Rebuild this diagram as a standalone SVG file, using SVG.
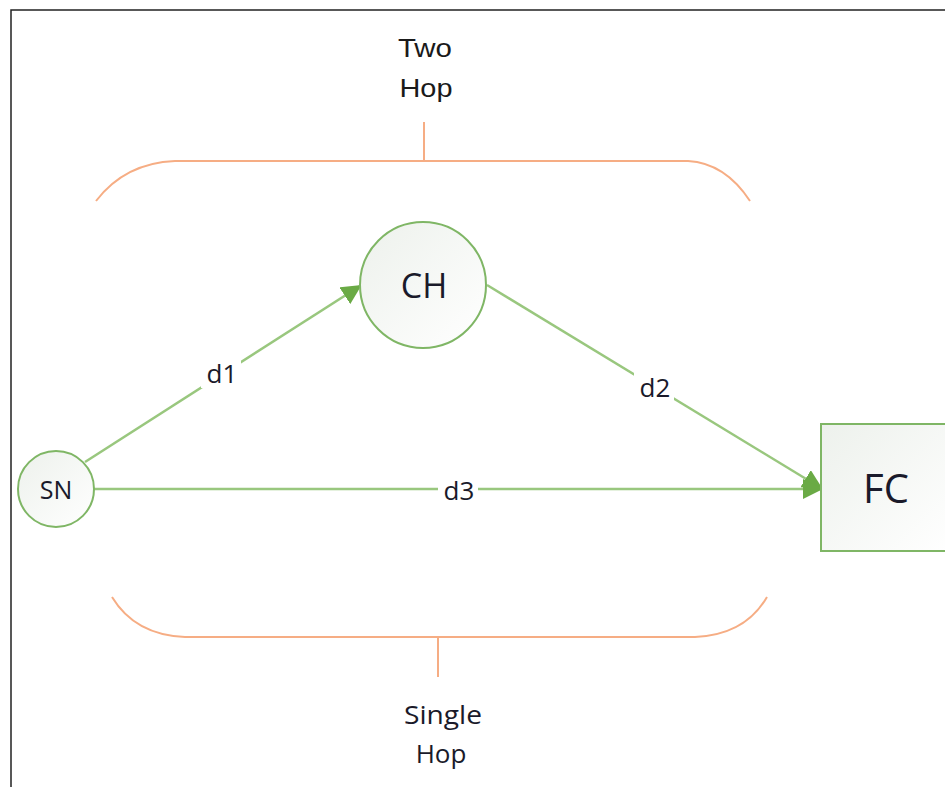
<svg xmlns="http://www.w3.org/2000/svg" width="945" height="787" viewBox="0 0 945 787">
  <defs>
    <linearGradient id="nodeFill" x1="0" y1="0" x2="1" y2="1">
      <stop offset="0" stop-color="#edf1ec"/>
      <stop offset="1" stop-color="#ffffff"/>
    </linearGradient>
    <marker id="arrowBig" viewBox="0 0 10 10" refX="9" refY="5" markerWidth="20" markerHeight="20" markerUnits="userSpaceOnUse" orient="auto">
      <path d="M0,0 L10,5 L0,10 Z" fill="#6aaa45"/>
    </marker>
  </defs>
  <style>
    .node { fill: url(#nodeFill); stroke: #7fb665; stroke-width: 2; }
    .edge { fill: none; stroke: #99c77e; stroke-width: 2.5; marker-end: url(#arrowBig); }
    .brace { fill: none; stroke: #f6ad84; stroke-width: 2; }
    .lbl { font-family: "Open Sans", "Noto Sans", sans-serif; fill: #1a1a2a; text-anchor: middle; }
    .note { font-family: "Liberation Sans", "Noto Sans", sans-serif; fill: #1a1a1a; text-anchor: middle; font-size: 26px; }
    .bg { fill: #ffffff; }
  </style>

  <rect x="0" y="0" width="945" height="787" fill="#ffffff"/>
  <!-- frame -->
  <path d="M11,787 L11,10 L945,10" fill="none" stroke="#222222" stroke-width="1.5"/>

  <!-- braces -->
  <g id="brace-top">
    <path class="brace" d="M96,201 Q125,163 175,161 L688,161 Q725,163 750,201"/>
    <path class="brace" d="M424,161 L424,122"/>
    <text class="note" x="425" y="57" textLength="54" lengthAdjust="spacingAndGlyphs">Two</text>
    <text class="note" x="426" y="97" textLength="53" lengthAdjust="spacingAndGlyphs">Hop</text>
  </g>
  <g id="brace-bottom">
    <path class="brace" d="M112,597 Q135,635 185,637 L695,637 Q745,635 767,597"/>
    <path class="brace" d="M438,637 L438,677"/>
    <text class="lbl" x="443" y="724" font-size="26" textLength="78" lengthAdjust="spacingAndGlyphs">Single</text>
    <text class="lbl" x="441" y="763" font-size="26">Hop</text>
  </g>

  <!-- connectors -->
  <g id="connectors">
    <path class="edge" d="M85,462 L360,286"/>
    <path class="edge" d="M487,285 L821,488"/>
    <path class="edge" d="M94,489 L821,489"/>
    <rect class="bg" x="201" y="358" width="40" height="30"/>
    <text class="lbl" x="222" y="383" font-size="26">d1</text>
    <rect class="bg" x="634" y="372" width="40" height="30"/>
    <text class="lbl" x="655" y="397" font-size="26">d2</text>
    <rect class="bg" x="438" y="475" width="40" height="30"/>
    <text class="lbl" x="459" y="500" font-size="26">d3</text>
  </g>

  <!-- nodes -->
  <g id="SN">
    <circle class="node" cx="56" cy="489" r="38"/>
    <text class="lbl" x="56" y="499" font-size="25">SN</text>
  </g>
  <g id="CH">
    <circle class="node" cx="423" cy="285" r="63"/>
    <text class="lbl" x="424" y="298" font-size="34">CH</text>
  </g>
  <g id="FC">
    <rect class="node" x="821" y="424" width="130" height="127"/>
    <text class="lbl" x="886" y="503" font-size="40">FC</text>
  </g>
</svg>
